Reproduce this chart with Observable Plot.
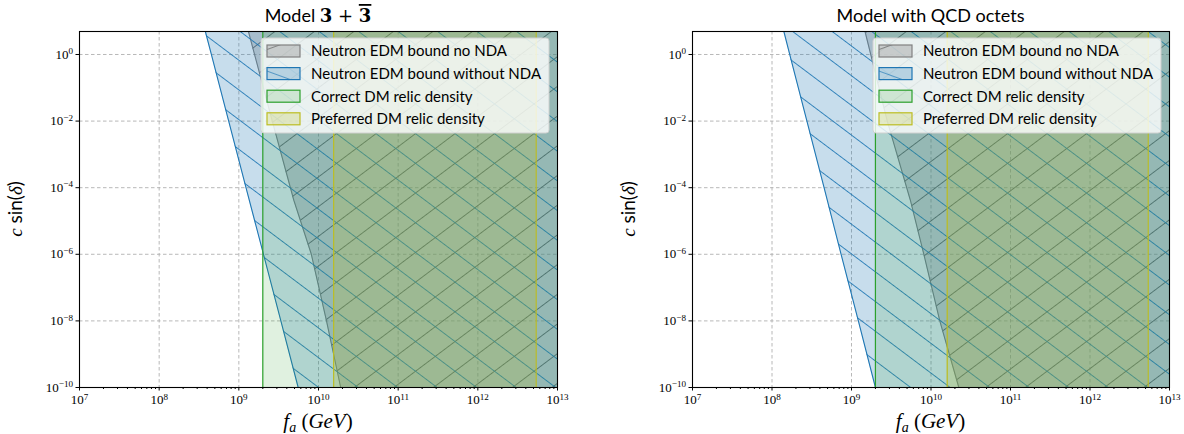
<!DOCTYPE html>
<html><head><meta charset="utf-8">
<script src="https://cdn.jsdelivr.net/npm/d3@7"></script>
<script src="https://cdn.jsdelivr.net/npm/@observablehq/plot@0.6"></script>
<style>
body{margin:0;background:#fff;}
#wrap{display:flex;width:1184px;height:434px;overflow:hidden;}
</style></head><body>
<svg width="0" height="0" style="position:absolute">
<defs>
<pattern id="hatchBlue" patternUnits="userSpaceOnUse" width="21" height="21" patternTransform="scale(1.33,1) rotate(-45)"><line x1="0" y1="-2" x2="0" y2="23" stroke="#1f77b4" stroke-width="1.5"/></pattern>
<pattern id="hatchGray" patternUnits="userSpaceOnUse" width="21" height="21" patternTransform="scale(1.33,1) rotate(45)"><line x1="0" y1="-2" x2="0" y2="23" stroke="#5e5e5e" stroke-width="1.5"/></pattern>
<pattern id="swBlue" patternUnits="userSpaceOnUse" width="40" height="40" patternTransform="translate(0,4) rotate(-70)"><line x1="0" y1="-2" x2="0" y2="42" stroke="#1f77b4" stroke-width="1.3"/></pattern>
<pattern id="swGray" patternUnits="userSpaceOnUse" width="40" height="40" patternTransform="translate(0,4) rotate(70)"><line x1="0" y1="-2" x2="0" y2="42" stroke="#5e5e5e" stroke-width="1.3"/></pattern>
</defs></svg>
<div id="wrap"></div>
<script>
// ---- axes ----
const X_DOMAIN = [1e7, 1e13];
const Y_DOMAIN = [1e-10, 4.9];
const xTicks = [1e7, 1e8, 1e9, 1e10, 1e11, 1e12, 1e13];
const yTicks = [1e-10, 1e-8, 1e-6, 1e-4, 1e-2, 1];
const legendLabels = ["Neutron EDM bound no NDA", "Neutron EDM bound without NDA", "Correct DM relic density", "Preferred DM relic density"];

// ---- Model 3 + 3bar ----
const m1BlueC  = [4.9, 1, 1e-2, 1e-4, 1e-6, 1e-8, 1e-10];
const m1BlueFa = [3.8e8, 4.52e8, 7.46e8, 1.23e9, 2.04e9, 3.37e9, 5.56e9];
const m1GrayC  = [4.9, 1e-2, 4.2e-5, 1e-6, 1e-8, 1e-10];
const m1GrayFa = [1.32e9, 2.63e9, 4.9e9, 8.13e9, 1.26e10, 1.9e10];
const m1Green  = [2.0e9, 1e13];
const m1Yellow = [1.55e10, 5.4e12];

// ---- Model with QCD octets ----
const m2BlueC  = [4.9, 1, 1e-2, 1e-4, 1e-6, 1e-8, 1e-10];
const m2BlueFa = [1.41e8, 1.67e8, 2.75e8, 4.52e8, 7.4e8, 1.22e9, 2.0e9];
const m2GrayC  = [4.9, 1e-2, 4.2e-5, 1e-6, 1e-8, 1e-10];
const m2GrayFa = [1.48e9, 2.82e9, 5.5e9, 8.13e9, 1.29e10, 2.24e10];
const m2Green  = [2.0e9, 1e13];
const m2Yellow = [1.6e10, 5.4e12];

const BLUE = "#1f77b4", GREEN = "#2ca02c", YELLOW = "#bcbd22", GRAY = "#808080";

const xMinor = [];
for (let e = 7; e < 13; e++) for (let k = 2; k < 10; k++) xMinor.push(k * 10 ** e);

function rows(cs, fas) { return cs.map((c, i) => ({c, fa: fas[i], xr: X_DOMAIN[1]})); }
function band(b) { return [{x1: b[0], x2: b[1], y1: Y_DOMAIN[0], y2: Y_DOMAIN[1]}]; }
const expFmt = d => "10^" + Math.round(Math.log10(d));

function makePanel(cfg) {
  const W = 592, H = 434, mt = 31, mb = 47;
  const gray = rows(cfg.grayC, cfg.grayFa);
  const blue = rows(cfg.blueC, cfg.blueFa);
  const svg = Plot.plot({
    width: W, height: H, marginLeft: cfg.ml, marginRight: cfg.mr, marginTop: mt, marginBottom: mb,
    x: {type: "log", domain: X_DOMAIN},
    y: {type: "log", domain: Y_DOMAIN},
    style: {fontFamily: "Liberation Serif", fontSize: "13px", color: "black", background: "white", overflow: "visible"},
    marks: [
      Plot.gridX(xTicks.slice(1, -1), {stroke: "#b0b0b0", strokeOpacity: 1, strokeDasharray: "3.5,2.5", strokeWidth: 0.9}),
      Plot.gridY(yTicks.slice(1), {stroke: "#b0b0b0", strokeOpacity: 1, strokeDasharray: "3.5,2.5", strokeWidth: 0.9}),
      Plot.areaX(gray, {y: "c", x1: "fa", x2: "xr", fill: GRAY, fillOpacity: 0.33}),
      Plot.areaX(gray, {y: "c", x1: "fa", x2: "xr", fill: "url(#hatchGray)"}),
      Plot.line(gray, {x: "fa", y: "c", stroke: GRAY, strokeWidth: 1.1}),
      Plot.areaX(blue, {y: "c", x1: "fa", x2: "xr", fill: BLUE, fillOpacity: 0.25}),
      Plot.areaX(blue, {y: "c", x1: "fa", x2: "xr", fill: "url(#hatchBlue)"}),
      Plot.line(blue, {x: "fa", y: "c", stroke: BLUE, strokeWidth: 1.1}),
      Plot.rect(band(cfg.green), {x1: "x1", x2: "x2", y1: "y1", y2: "y2", fill: GREEN, fillOpacity: 0.15}),
      Plot.ruleX([cfg.green[0]], {stroke: GREEN, strokeWidth: 1.2}),
      Plot.rect(band(cfg.yellow), {x1: "x1", x2: "x2", y1: "y1", y2: "y2", fill: YELLOW, fillOpacity: 0.22}),
      Plot.ruleX(cfg.yellow, {stroke: YELLOW, strokeWidth: 1.2}),
      Plot.axisX(xMinor, {tickSize: 2, tickFormat: () => "", label: null}),
      Plot.axisX(xTicks, {tickSize: 3.5, tickPadding: 4, tickFormat: expFmt, label: null}),
      Plot.axisY(yTicks, {tickSize: 3.5, tickPadding: 3, tickFormat: expFmt, label: null}),
      Plot.frame({stroke: "black", strokeWidth: 1.1})
    ]
  });
  const s = d3.select(svg);
  // superscript tick labels
  s.selectAll('g[aria-label="x-axis tick label"] text, g[aria-label="y-axis tick label"] text').each(function () {
    const t = this.textContent;
    if (!t.startsWith("10^")) return;
    const e = t.slice(3).replace("-", "\u2212");
    const el = d3.select(this);
    el.selectAll("*").remove();
    el.text(null);
    el.append("tspan").text("10");
    el.append("tspan").attr("dy", "-0.5em").attr("font-size", "0.7em").text(e);
  });
  const left = cfg.ml, right = W - cfg.mr, cx = (left + right) / 2;
  // title
  const tt = s.append("text").attr("x", cx).attr("y", 22).attr("text-anchor", "middle")
    .attr("font-size", 18).attr("font-family", "Lato").attr("fill", "black");
  cfg.title(tt);
  // y label
  const yl = s.append("text").attr("transform", `translate(${left - 57},${(mt + H - mb) / 2}) rotate(-90)`)
    .attr("text-anchor", "middle").attr("font-size", 19).attr("font-family", "Lato").attr("fill", "black");
  yl.append("tspan").attr("font-family", "Liberation Serif").attr("font-style", "italic").text("c");
  yl.append("tspan").text(" sin(");
  yl.append("tspan").attr("font-family", "Liberation Serif").attr("font-style", "italic").text("δ");
  yl.append("tspan").text(")");
  // x label
  const xl = s.append("text").attr("x", cx).attr("y", 428).attr("text-anchor", "middle")
    .attr("font-size", 21).attr("font-family", "Liberation Serif").attr("fill", "black");
  xl.append("tspan").attr("font-style", "italic").text("f");
  xl.append("tspan").attr("font-style", "italic").attr("font-size", 14).attr("dy", 4).text("a");
  xl.append("tspan").attr("dy", -4).text(" (");
  xl.append("tspan").attr("font-style", "italic").text("GeV");
  xl.append("tspan").text(")");
  // legend
  const lw = 288, lh = 95, lx = right - 8 - lw, ly = mt + 7;
  const lg = s.append("g").attr("text-anchor", "start");
  lg.append("rect").attr("x", lx).attr("y", ly).attr("width", lw).attr("height", lh).attr("rx", 3)
    .attr("fill", "white").attr("fill-opacity", 0.8).attr("stroke", "#d0d0d0").attr("stroke-width", 1);
  const sw = [
    {fill: GRAY, op: 0.33, stroke: GRAY, hatch: "url(#swGray)"},
    {fill: BLUE, op: 0.25, stroke: BLUE, hatch: "url(#swBlue)"},
    {fill: GREEN, op: 0.15, stroke: GREEN, hatch: null},
    {fill: YELLOW, op: 0.22, stroke: YELLOW, hatch: null}
  ];
  legendLabels.forEach((lab, i) => {
    const yc = ly + 13 + i * 22.6;
    const g = lg.append("g").attr("transform", `translate(${lx + 6},${yc - 6})`);
    g.append("rect").attr("width", 33).attr("height", 12).attr("fill", sw[i].fill).attr("fill-opacity", sw[i].op);
    if (sw[i].hatch) g.append("rect").attr("width", 33).attr("height", 12).attr("fill", sw[i].hatch);
    g.append("rect").attr("width", 33).attr("height", 12)
      .attr("fill", "none").attr("stroke", sw[i].stroke).attr("stroke-width", 1.2);
    lg.append("text").attr("x", lx + 50).attr("y", yc).attr("dy", "0.36em").attr("font-family", "Lato")
      .attr("text-anchor", "start").attr("font-size", 15).attr("fill", "black").text(lab);
  });
  return svg;
}

const wrap = document.getElementById("wrap");
wrap.append(makePanel({
  ml: 79, mr: 35,
  blueC: m1BlueC, blueFa: m1BlueFa, grayC: m1GrayC, grayFa: m1GrayFa, green: m1Green, yellow: m1Yellow,
  title: t => {
    t.append("tspan").text("Model ");
    t.append("tspan").attr("font-family", "DejaVu Serif").attr("font-weight", "bold").text("3");
    t.append("tspan").attr("font-family", "DejaVu Serif").text(" + ");
    t.append("tspan").attr("font-family", "DejaVu Serif").attr("font-weight", "bold").style("text-decoration", "overline").text("3");
  }
}));
wrap.append(makePanel({
  ml: 100, mr: 15,
  blueC: m2BlueC, blueFa: m2BlueFa, grayC: m2GrayC, grayFa: m2GrayFa, green: m2Green, yellow: m2Yellow,
  title: t => { t.text("Model with QCD octets"); }
}));
</script>
</body></html>
